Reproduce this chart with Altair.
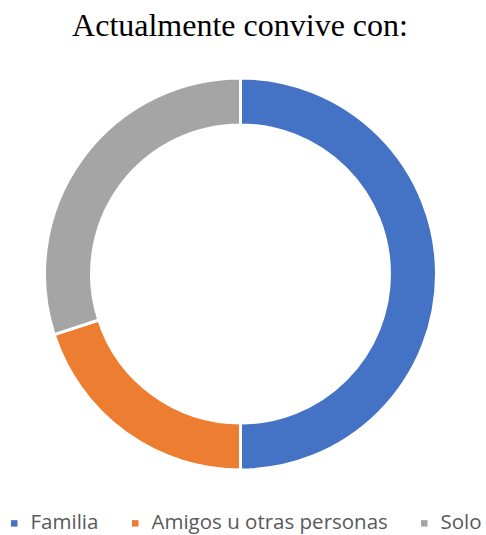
import altair as alt
import pandas as pd

categories = ["Familia", "Amigos u otras personas", "Solo"]
values = [50, 20, 30]
colors = ["#4472C4", "#ED7D31", "#A5A5A5"]

df = pd.DataFrame({"cat": categories, "val": values, "idx": list(range(len(categories)))})

arc = alt.Chart(df).mark_arc(stroke="white", strokeWidth=3).encode(
    theta=alt.Theta("val:Q", stack=True),
    order=alt.Order("idx:Q"),
    color=alt.Color(
        "cat:N",
        sort=categories,
        scale=alt.Scale(domain=categories, range=colors),
        legend=alt.Legend(
            title=None,
            orient="none",
            legendX=4,
            legendY=513,
            direction="horizontal",
            columns=3,
            symbolType="square",
            symbolSize=42,
            symbolStrokeWidth=0,
            labelFontSize=20.5,
            labelFont="Open Sans",
            labelColor="#595959",
            labelLimit=0,
            columnPadding=26,
            labelOffset=6,
        ),
    ),
    x=alt.value(240.5),
    y=alt.value(274),
    radius=alt.value(196),
    radius2=alt.value(149),
)

chart = arc.properties(
    width=486,
    height=535,
    autosize=alt.AutoSizeParams(type="none"),
    padding=0,
    title=alt.TitleParams(
        "Actualmente convive con:",
        font="Liberation Serif",
        fontSize=32,
        fontWeight="normal",
        color="#000000",
        anchor="middle",
        dx=-3,
        offset=-43,
    ),
).configure_view(stroke=None)

chart.save("out.html", embed_options={"renderer": "svg", "actions": False})
